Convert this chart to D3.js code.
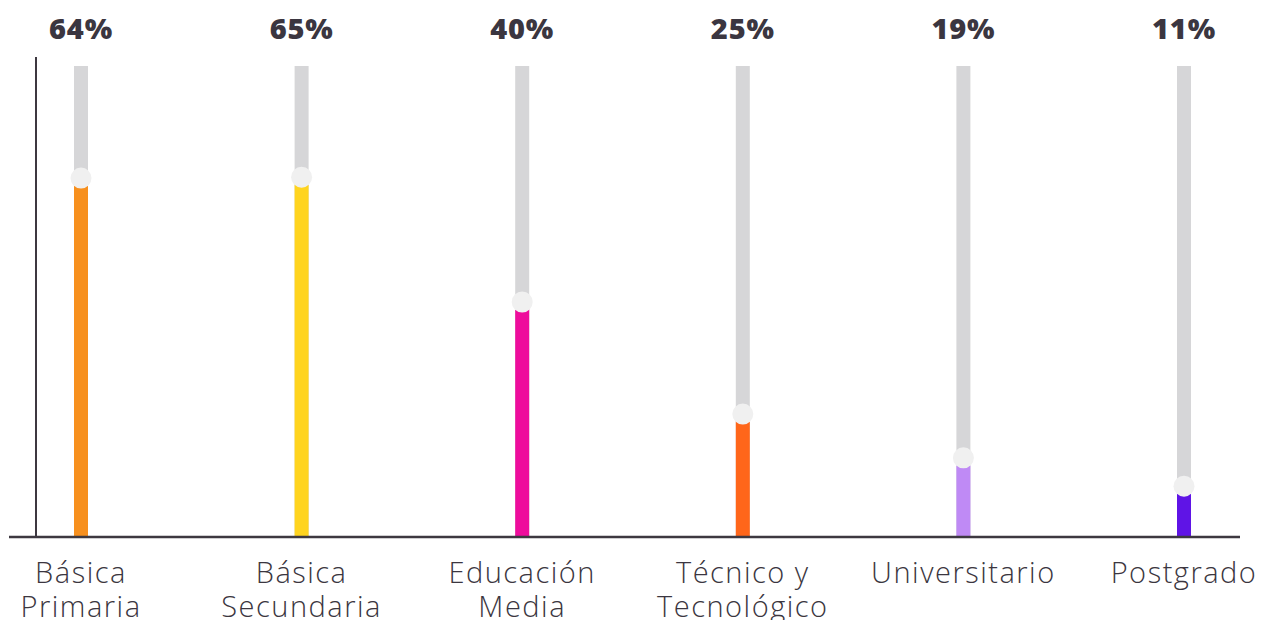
<!DOCTYPE html>
<html>
<head>
<meta charset="utf-8">
<script src="https://cdn.jsdelivr.net/npm/d3@7"></script>
<style>
  body { margin: 0; background: #fff; }
  svg text { font-family: "Open Sans", "Noto Sans", sans-serif; fill: #3b3640; }
</style>
</head>
<body>
<svg width="1272" height="620"></svg>
<script>
// Data
var categories = [["Básica", "Primaria"], ["Básica", "Secundaria"], ["Educación", "Media"],
                  ["Técnico y", "Tecnológico"], ["Universitario"], ["Postgrado"]];
var labels = ["64%", "65%", "40%", "25%", "19%", "11%"];
var values = [76.2, 76.4, 49.9, 26.1, 16.8, 10.8];   // bar height as drawn, track = 100
var colors = ["#f7901e", "#ffd41f", "#ee0c9c", "#ff661a", "#bf8af5", "#5f14e6"];

var svg = d3.select("svg"),
    width = +svg.attr("width"),
    height = +svg.attr("height");

var x = d3.scalePoint()
    .domain(d3.range(categories.length))
    .range([81, 1184]);

var y = d3.scaleLinear()
    .domain([0, 100])
    .range([537, 66]);

// axes lines
svg.append("line")
    .attr("x1", 36).attr("x2", 36)
    .attr("y1", 57).attr("y2", y(0))
    .attr("stroke", "#3d3840").attr("stroke-width", 2);

var g = svg.append("g");

// gray tracks
g.selectAll(".track")
    .data(values)
    .enter().append("rect")
    .attr("class", "track")
    .attr("x", function (d, i) { return x(i) - 7; })
    .attr("y", y(100))
    .attr("width", 14)
    .attr("height", y(0) - y(100))
    .attr("fill", "#d6d6d8");

// coloured bars
g.selectAll(".bar")
    .data(values)
    .enter().append("rect")
    .attr("class", "bar")
    .attr("x", function (d, i) { return x(i) - 7; })
    .attr("y", function (d) { return y(d); })
    .attr("width", 14)
    .attr("height", function (d) { return y(0) - y(d); })
    .attr("fill", function (d, i) { return colors[i]; });

// knobs
g.selectAll(".knob")
    .data(values)
    .enter().append("circle")
    .attr("class", "knob")
    .attr("cx", function (d, i) { return x(i); })
    .attr("cy", function (d) { return y(d); })
    .attr("r", 10.5)
    .attr("fill", "#f0f0f0");

svg.append("line")
    .attr("x1", 9).attr("x2", 1240)
    .attr("y1", y(0)).attr("y2", y(0))
    .attr("stroke", "#3d3840").attr("stroke-width", 2.5);

// percentage labels
svg.selectAll(".pct")
    .data(labels)
    .enter().append("text")
    .attr("class", "pct")
    .attr("x", function (d, i) { return x(i); })
    .attr("y", 39)
    .attr("text-anchor", "middle")
    .style("font-size", "29px")
    .style("font-weight", 800)
    .style("letter-spacing", "0.8px")
    .text(function (d) { return d; });

// category labels
var cat = svg.selectAll(".cat")
    .data(categories)
    .enter().append("text")
    .attr("class", "cat")
    .attr("text-anchor", "middle")
    .style("font-size", "29px")
    .style("font-weight", 300)
    .style("letter-spacing", "1.5px");

cat.selectAll("tspan")
    .data(function (d, i) { return d.map(function (s) { return { s: s, i: i }; }); })
    .enter().append("tspan")
    .attr("x", function (d) { return x(d.i); })
    .attr("y", function (d, j) { return 583 + j * 34; })
    .text(function (d) { return d.s; });
</script>
</body>
</html>
